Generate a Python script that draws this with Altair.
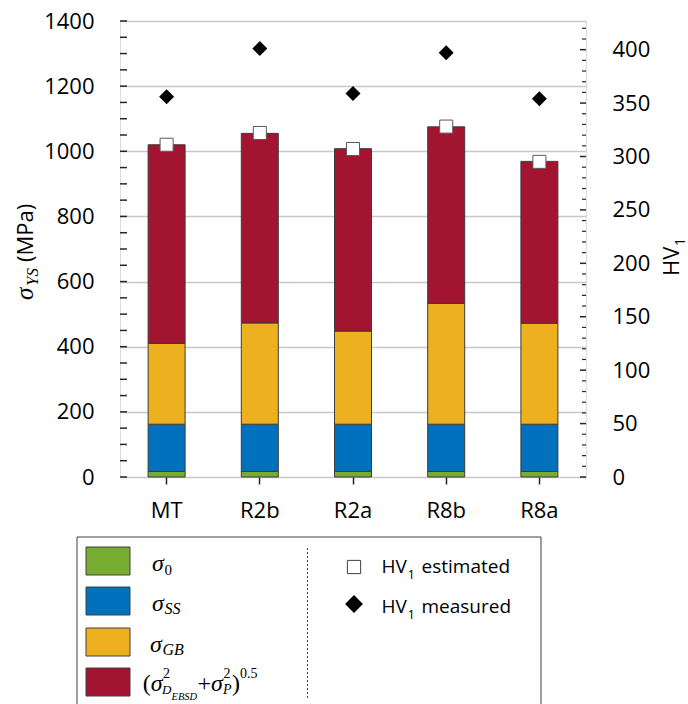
import altair as alt
import pandas as pd

# Samples and strengthening contributions (MPa)
categories = ["MT", "R2b", "R2a", "R8b", "R8a"]
sigma_0 = [17, 17, 17, 17, 17]
sigma_ss = [145, 145, 145, 145, 145]
sigma_gb = [248, 311, 286, 371, 310]
sigma_dp = [610, 582, 560, 542, 497]

# Vickers hardness HV1
hv_estimated = [311, 322, 307, 328, 295]
hv_measured = [356, 401, 359, 397, 354]

components = ["s0", "sss", "sgb", "sdp"]
component_colors = ["#77AC30", "#0072BD", "#EDB120", "#A2142F"]

left_ticks = list(range(0, 1401, 50))
left_labels = list(range(0, 1401, 200))
right_labels = list(range(0, 401, 50))
right_minor = [v for v in range(0, 421, 10) if v % 50]

W, H = 466, 456
OX, OY = 120, 21          # plot origin on the page
SANS = "Open Sans"
SERIF = "Liberation Serif"
YS_MAX = 1400
HV_MAX = 1400 / 3.28

rows = []
for i, c in enumerate(categories):
    for k, (name, vals) in enumerate(zip(components, [sigma_0, sigma_ss, sigma_gb, sigma_dp])):
        rows.append({"cat": c, "comp": name, "k": k, "value": vals[i]})
stack_df = pd.DataFrame(rows)
hv_df = pd.DataFrame({"cat": categories, "est": hv_estimated, "meas": hv_measured})

# the same x definition is used in every layer so the shared axis merges cleanly
x_enc = alt.X("cat:N", sort=categories,
              scale=alt.Scale(paddingInner=0, paddingOuter=0),
              axis=alt.Axis(title=None, domain=False, ticks=True, tickSize=7,
                            tickColor="#262626", tickWidth=1.5, labelPadding=16,
                            labelFont=SANS, labelFontSize=22, labelColor="black",
                            labelAngle=0, grid=False))

ys_scale = alt.Scale(domain=[0, YS_MAX], nice=False, zero=True)
hv_scale = alt.Scale(domain=[0, HV_MAX], nice=False, zero=True)

bars = alt.Chart(stack_df).mark_bar(size=37, stroke="#3c3c3c", strokeWidth=1).encode(
    x=x_enc,
    y=alt.Y("value:Q", stack="zero", scale=ys_scale,
            axis=alt.Axis(title=None, values=left_labels, ticks=False, domain=False,
                          format="d", labelPadding=26, labelFont=SANS, labelFontSize=22,
                          labelColor="black", grid=True, gridColor="#c8c8c8",
                          gridWidth=1.5)),
    color=alt.Color("comp:N", scale=alt.Scale(domain=components, range=component_colors),
                    legend=None),
    order=alt.Order("k:Q", sort="ascending"),
)

lticks = alt.Chart(pd.DataFrame({"v": left_ticks})).mark_rule(
    color="#262626", strokeWidth=1.5).encode(
    y=alt.Y("v:Q", scale=ys_scale, axis=None),
    x=alt.value(0), x2=alt.value(7))

est = alt.Chart(hv_df).mark_point(shape="square", filled=True, fill="white",
                                  stroke="#595959", strokeWidth=1, size=170,
                                  opacity=1).encode(
    x=x_enc,
    y=alt.Y("est:Q", scale=hv_scale,
            axis=alt.Axis(orient="right", title=None, values=right_labels, ticks=False,
                          domain=False, format="d", labelPadding=26, labelFont=SANS,
                          labelFontSize=22, labelColor="black", grid=False)))

meas = alt.Chart(hv_df).mark_point(shape="diamond", filled=True, color="black",
                                   size=225, opacity=1).encode(
    x=x_enc,
    y=alt.Y("meas:Q", scale=hv_scale, axis=None))

rt_major = alt.Chart(pd.DataFrame({"v": right_labels})).mark_rule(
    color="#262626", strokeWidth=1.5).encode(
    y=alt.Y("v:Q", scale=hv_scale, axis=None),
    x=alt.value(W - 6), x2=alt.value(W))
rt_minor = alt.Chart(pd.DataFrame({"v": right_minor})).mark_rule(
    color="#262626", strokeWidth=1.2).encode(
    y=alt.Y("v:Q", scale=hv_scale, axis=None),
    x=alt.value(W - 4), x2=alt.value(W))

one = pd.DataFrame({"k": [0]})


def txt(s, x, y, size, font=SERIF, style="normal", angle=0, align="left",
        baseline="alphabetic"):
    return alt.Chart(one).mark_text(
        text=s, x=x - OX, y=y - OY, fontSize=size, font=font, fontStyle=style,
        angle=angle, align=align, baseline=baseline, color="black", fill="black")


def box(x0, y0, x1, y1, **kw):
    return alt.Chart(one).mark_rect(**kw).encode(
        x=alt.value(x0 - OX), x2=alt.value(x1 - OX),
        y=alt.value(y0 - OY), y2=alt.value(y1 - OY))


notes = []

# axis titles
notes += [
    txt("σ", 33, 300, 25, style="italic", angle=270),
    txt("YS", 38, 286, 17, style="italic", angle=270),
    txt("(MPa)", 33, 262, 22, font=SANS, angle=270),
    txt("HV", 679, 276, 22, font=SANS, angle=270),
    txt("1", 685, 246, 14, font=SANS, angle=270),
]

# legend frame and divider
notes.append(box(77, 537, 541, 720, fillOpacity=0, stroke="#404040", strokeWidth=1))
notes.append(alt.Chart(one).mark_rule(color="#404040", strokeDash=[2, 2], strokeWidth=1).encode(
    x=alt.value(307.5 - OX), y=alt.value(548 - OY), y2=alt.value(700 - OY)))

# colour swatches
for top, col in zip([547, 587, 628, 668], component_colors):
    notes.append(box(86, top, 130, top + 28, fill=col, stroke="#404040", strokeWidth=1))

# math labels of the stacked components
notes += [
    txt("σ", 152, 571, 24, style="italic"),
    txt("0", 164.5, 575, 15),

    txt("σ", 152, 611, 24, style="italic"),
    txt("SS", 164.5, 614, 16, style="italic"),

    txt("σ", 150, 652, 24, style="italic"),
    txt("GB", 162.5, 655, 16, style="italic"),

    txt("(", 142.7, 691, 24),
    txt("σ", 150.7, 691, 24, style="italic"),
    txt("2", 163, 678, 14),
    txt("D", 162, 694, 13, style="italic"),
    txt("EBSD", 171.5, 700, 10.5, style="italic"),
    txt("+", 197.5, 691, 24),
    txt("σ", 211, 691, 24, style="italic"),
    txt("2", 223.5, 678, 14),
    txt("P", 223, 694, 14, style="italic"),
    txt(")", 232, 691, 24),
    txt("0.5", 240, 678, 14),
]

# marker legend
notes.append(alt.Chart(one).mark_point(shape="square", filled=True, fill="white",
                                       stroke="#404040", strokeWidth=1, size=175,
                                       opacity=1).encode(
    x=alt.value(354 - OX), y=alt.value(567 - OY)))
notes.append(alt.Chart(one).mark_point(shape="diamond", filled=True, color="black",
                                       size=320, opacity=1).encode(
    x=alt.value(354 - OX), y=alt.value(604 - OY)))
notes += [
    txt("HV", 381.5, 573, 19, font=SANS),
    txt("1", 407.5, 579, 13, font=SANS),
    txt("estimated", 421.5, 573, 19, font=SANS),
    txt("HV", 381.5, 613, 19, font=SANS),
    txt("1", 407.5, 619, 13, font=SANS),
    txt("measured", 421.5, 613, 19, font=SANS),
]

chart = alt.layer(bars, lticks, est, meas, rt_major, rt_minor, *notes).resolve_scale(
    y="independent"
).properties(
    width=W, height=H,
    autosize=alt.AutoSizeParams(type="none"),
    padding={"left": OX, "top": OY, "right": 688 - OX - W, "bottom": 704 - OY - H},
).configure_view(
    stroke="#262626", strokeWidth=1.5
).configure(background="white")

chart.save("out.html", embed_options={"renderer": "svg", "actions": False})
